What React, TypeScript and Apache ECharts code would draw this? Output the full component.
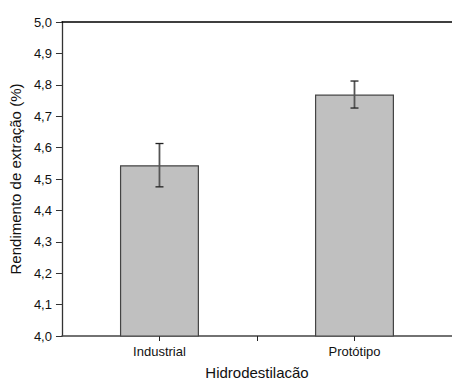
import React, { useEffect, useRef } from "react";
import * as echarts from "echarts";

const categories = ["Industrial", "Protótipo"];
const categoryPositions = [1, 2];
const means = [4.544, 4.769];
const errors = [0.069, 0.043];
const yTicks = { min: 4.0, max: 5.0, interval: 0.1 };

const FONT = "'Liberation Sans', Arial, sans-serif";

export default function App() {
  const ref = useRef<HTMLDivElement>(null);

  useEffect(() => {
    if (!ref.current) return;
    const chart = echarts.init(ref.current, undefined, { renderer: "svg" });
    const barData = categoryPositions.map((x, i) => [x, means[i]]);
    const errData = categoryPositions.map((x, i) => [x, means[i] - errors[i], means[i] + errors[i]]);
    const labelFor = (v: number) => {
      const idx = categoryPositions.indexOf(v);
      return idx >= 0 ? categories[idx] : "";
    };

    chart.setOption({
      animation: false,
      backgroundColor: "#ffffff",
      textStyle: { fontFamily: FONT },
      grid: { left: 59, right: -2, top: 22, bottom: 46.5, containLabel: false },
      xAxis: [
        {
          type: "value",
          min: 0.5,
          max: 2.5,
          interval: 0.5,
          position: "bottom",
          splitLine: { show: false },
          axisLine: { show: true, onZero: false, lineStyle: { color: "#444", width: 1.5 } },
          axisTick: { show: true, customValues: [1, 1.5, 2], length: 5, lineStyle: { color: "#222", width: 1 } },
          axisLabel: {
            customValues: [1, 2],
            formatter: (v: number) => labelFor(v),
            color: "#111",
            fontSize: 13,
            fontFamily: FONT,
            margin: 9,
          },
          name: "Hidrodestilacão",
          nameLocation: "middle",
          nameGap: 29,
          nameTextStyle: { color: "#111", fontSize: 15, fontFamily: FONT },
        },
        {
          type: "value",
          min: 0.5,
          max: 2.5,
          position: "top",
          splitLine: { show: false },
          axisLine: { show: true, onZero: false, lineStyle: { color: "#000", width: 1.5 } },
          axisTick: { show: false },
          axisLabel: { show: false },
        },
      ],
      yAxis: {
        type: "value",
        min: yTicks.min,
        max: yTicks.max,
        interval: yTicks.interval,
        splitLine: { show: false },
        axisLine: { show: true, onZero: false, lineStyle: { color: "#333", width: 1.3 } },
        axisTick: { show: true, length: 6, lineStyle: { color: "#333", width: 1 } },
        axisLabel: {
          formatter: (v: number) => v.toFixed(1).replace(".", ","),
          color: "#111",
          fontSize: 13,
          fontFamily: FONT,
          margin: 10,
        },
        name: "Rendimento de extração (%)",
        nameLocation: "middle",
        nameRotate: 90,
        nameGap: 34,
        nameTextStyle: { color: "#111", fontSize: 15, fontFamily: FONT },
      },
      series: [
        {
          type: "bar",
          xAxisIndex: 0,
          data: barData,
          barWidth: 79,
          itemStyle: { color: "#c0c0c0", borderColor: "#444", borderWidth: 1.2 },
        },
        {
          type: "custom",
          xAxisIndex: 0,
          data: errData,
          z: 10,
          renderItem: (params: any, api: any) => {
            const x = api.value(0);
            const lo = api.coord([x, api.value(1)]);
            const hi = api.coord([x, api.value(2)]);
            const half = 4;
            const style = { stroke: "#222", lineWidth: 1.3 };
            return {
              type: "group",
              children: [
                { type: "line", shape: { x1: hi[0], y1: hi[1], x2: lo[0], y2: lo[1] }, style: { stroke: "#555", lineWidth: 1.8 } },
                { type: "line", shape: { x1: hi[0] - half, y1: hi[1], x2: hi[0] + half, y2: hi[1] }, style },
                { type: "line", shape: { x1: lo[0] - half, y1: lo[1], x2: lo[0] + half, y2: lo[1] }, style },
              ],
            };
          },
        },
      ],
    });
    return () => chart.dispose();
  }, []);

  return (
    <div
      ref={ref}
      style={{ position: "fixed", left: 0, top: 0, width: 452, height: 385, background: "#fff" }}
    />
  );
}
